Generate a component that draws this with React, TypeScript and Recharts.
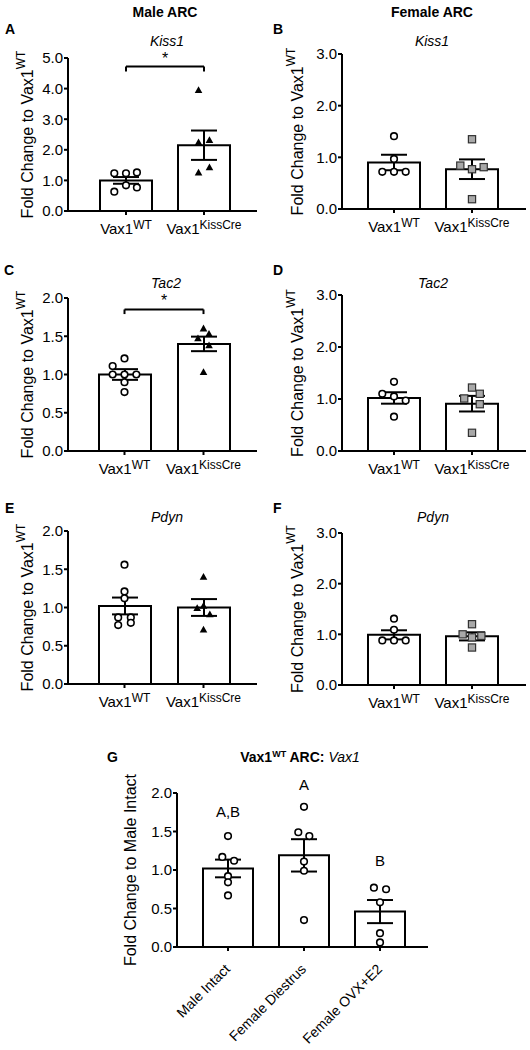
import React from 'react';
import {
  ComposedChart, Bar, ErrorBar, Scatter, XAxis, YAxis, ReferenceLine, ReferenceDot,
} from 'recharts';

const FONT = '"Liberation Sans", Arial, Helvetica, sans-serif';

// groups
const genotypes = ['WT', 'KissCre'];
const vaxGroups = ['Male Intact', 'Female Diestrus', 'Female OVX+E2'];

// y ticks
const ticks5 = [0, 1, 2, 3, 4, 5];
const ticks3 = [0, 1, 2, 3];
const ticks2 = [0, 0.5, 1, 1.5, 2];

// A - male Kiss1
const aMean = [1.0, 2.15];
const aSem = [0.11, 0.48];
const aWT = [1.23, 1.23, 1.26, 0.84, 0.77, 0.63];
const aWTx = [-0.15, 0, 0.14, 0, 0.14, -0.15];
const aKC = [3.95, 2.31, 2.24, 1.42, 1.25];
const aKCx = [-0.07, 0.07, -0.07, 0.07, -0.07];

// B - female Kiss1
const bMean = [0.9, 0.77];
const bSem = [0.15, 0.19];
const bWT = [1.41, 0.97, 0.72, 0.72, 0.72];
const bWTx = [0, 0, -0.15, 0, 0.15];
const bKC = [1.35, 0.84, 0.77, 0.81, 0.19];
const bKCx = [0, -0.15, 0, 0.15, 0];

// C - male Tac2
const cMean = [1.0, 1.4];
const cSem = [0.07, 0.095];
const cWT = [1.21, 1.11, 1.0, 1.0, 1.0, 0.9, 0.77];
const cWTx = [0, -0.15, -0.15, 0, 0.15, 0, 0];
const cKC = [1.6, 1.53, 1.47, 1.38, 1.03];
const cKCx = [0, 0.07, -0.07, 0.07, 0];

// D - female Tac2
const dMean = [1.02, 0.91];
const dSem = [0.11, 0.15];
const dWT = [1.33, 1.1, 1.05, 0.97, 0.66];
const dWTx = [0, -0.15, 0, 0.15, 0];
const dKC = [1.22, 1.1, 1.01, 0.9, 0.35];
const dKCx = [0, 0.1, -0.1, 0.1, 0];

// E - male Pdyn
const eMean = [1.02, 1.0];
const eSem = [0.11, 0.11];
const eWT = [1.56, 1.21, 1.12, 0.87, 0.77, 0.87, 0.8];
const eWTx = [0, 0, 0, -0.08, -0.08, 0.08, 0.08];
const eKC = [1.4, 1.02, 0.99, 0.91, 0.71];
const eKCx = [0, 0, -0.08, 0.08, 0];

// F - female Pdyn
const fMean = [0.99, 0.96];
const fSem = [0.09, 0.08];
const fWT = [1.31, 1.09, 0.88, 0.88, 0.88];
const fWTx = [0, 0, -0.15, 0, 0.15];
const fKC = [1.2, 1.0, 0.94, 0.97, 0.74];
const fKCx = [0, -0.12, 0, 0.12, 0];

// G - Vax1 in WT ARC
const gMean = [1.02, 1.19, 0.46];
const gSem = [0.115, 0.21, 0.15];
const gMale = [1.44, 1.17, 1.12, 0.92, 0.84, 0.67];
const gMalex = [0, -0.075, 0.08, 0, 0, 0];
const gDi = [1.82, 1.49, 1.44, 1.11, 0.99, 0.35];
const gDix = [0, -0.075, 0.07, 0, 0, 0];
const gOvx = [0.77, 0.75, 0.58, 0.18, 0.06];
const gOvxx = [-0.08, 0.08, 0, 0, 0];
const gLetters = ['A,B', 'A', 'B'];
const gLetterY = [1.76, 2.11, 1.12];

type Shape = 'circle' | 'tri' | 'square';
type Group = { idx: number; vals: number[]; jit: number[]; shape: Shape };

const CircleMark = (p: any) => (
  <circle cx={p.cx} cy={p.cy} r={3.3} fill="#fff" stroke="#000" strokeWidth={1.6} />
);
const TriMark = (p: any) => (
  <path d={`M${p.cx},${p.cy - 4}L${p.cx + 3.8},${p.cy + 2.8}L${p.cx - 3.8},${p.cy + 2.8}Z`} fill="#000" />
);
const SquareMark = (p: any) => (
  <rect x={p.cx - 3.6} y={p.cy - 3.6} width={7.2} height={7.2} fill="#a8a8a8" stroke="#333" strokeWidth={1.2} />
);
const marks = { circle: CircleMark, tri: TriMark, square: SquareMark };

const YLabel = ({ cx, cy, main, sup }: any) => (
  <text x={cx} y={cy} transform={`rotate(-90 ${cx} ${cy})`} textAnchor="middle" dominantBaseline="central"
    fontSize={16} fontFamily={FONT} fill="#000">
    {main}
    {sup && <tspan dy={-6} fontSize={12}>{sup}</tspan>}
  </text>
);

const GenoTick = (p: any) => (
  <text x={p.x} y={p.y + 17} textAnchor="middle" fontSize={15} fontFamily={FONT} fill="#000">
    Vax1<tspan dy={-5} fontSize={12}>{p.payload.value}</tspan>
  </text>
);

const GroupTick = (p: any) => {
  const x = p.x + 3;
  const y = p.y + 17;
  return (
    <text x={x} y={y} transform={`rotate(-45 ${x} ${y})`} textAnchor="end" fontSize={14} fontFamily={FONT} fill="#000">
      {p.payload.value}
    </text>
  );
};

type PanelProps = {
  box: [number, number, number, number]; // left, top, width, height
  plot: [number, number, number, number]; // left, top, right, bottom
  cats: string[];
  means: number[];
  sems: number[];
  groups: Group[];
  ymax: number;
  ticks: number[];
  pad: [number, number];
  barSize: number;
  labelOff: number;
  yMain: string;
  ySup?: string;
  rotated?: boolean;
  bracket?: { y: number; leg: number; star: number };
  letters?: { text: string[]; y: number[] };
};

const Panel = ({
  box, plot, cats, means, sems, groups, ymax, ticks, pad, barSize, labelOff,
  yMain, ySup, rotated, bracket, letters,
}: PanelProps) => {
  const [left, top, width, height] = box;
  const [pl, pt, pr, pb] = plot;
  const yw = pl - left;
  const xh = top + height - pb;
  const data = cats.map((c, i) => ({ name: c, mean: means[i], sem: sems[i] }));
  const axisStroke = { stroke: '#000', strokeWidth: 2 };
  return (
    <div style={{ position: 'absolute', left, top }}>
      <ComposedChart
        width={width}
        height={height}
        data={data}
        margin={{ top: pt - top, right: left + width - pr, bottom: 0, left: 0 }}
        style={{ fontFamily: FONT }}
      >
        <XAxis
          dataKey="name"
          height={xh}
          padding={{ left: pad[0], right: pad[1] }}
          axisLine={axisStroke}
          tickLine={axisStroke}
          tickSize={4}
          tickMargin={2}
          interval={0}
          tick={rotated ? <GroupTick /> : <GenoTick />}
        />
        <XAxis
          xAxisId="pts"
          dataKey="x"
          type="number"
          domain={[0, cats.length]}
          allowDataOverflow
          padding={{ left: pad[0], right: pad[1] }}
          hide
        />
        <YAxis
          width={yw}
          domain={[0, ymax]}
          ticks={ticks}
          interval={0}
          allowDataOverflow
          axisLine={axisStroke}
          tickLine={axisStroke}
          tickSize={4}
          tickMargin={1}
          tickFormatter={(v: number) => v.toFixed(1)}
          tick={{ fill: '#000', fontSize: 15, fontFamily: FONT }}
          label={<YLabel cx={yw - labelOff} cy={pt - top + (pb - pt) / 2} main={yMain} sup={ySup} />}
        />
        <Bar dataKey="mean" fill="#fff" stroke="#000" strokeWidth={2} barSize={barSize} isAnimationActive={false}>
          <ErrorBar dataKey="sem" width={13} stroke="#000" strokeWidth={2} direction="y" />
        </Bar>
        {groups.map((g, k) => (
          <Scatter
            key={k}
            xAxisId="pts"
            dataKey="y"
            data={g.vals.map((v, i) => ({ x: g.idx + 0.5 + g.jit[i], y: v }))}
            shape={marks[g.shape]}
            isAnimationActive={false}
          />
        ))}
        {bracket && (
          <ReferenceLine xAxisId="pts" stroke="#000" strokeWidth={2}
            segment={[{ x: 0.5, y: bracket.y }, { x: 1.5, y: bracket.y }]} />
        )}
        {bracket && (
          <ReferenceLine xAxisId="pts" stroke="#000" strokeWidth={2}
            segment={[{ x: 0.5, y: bracket.y }, { x: 0.5, y: bracket.leg }]} />
        )}
        {bracket && (
          <ReferenceLine xAxisId="pts" stroke="#000" strokeWidth={2}
            segment={[{ x: 1.5, y: bracket.y }, { x: 1.5, y: bracket.leg }]} />
        )}
        {bracket && (
          <ReferenceDot xAxisId="pts" x={1} y={bracket.star} r={0} fill="none" stroke="none" ifOverflow="visible"
            label={{ value: '*', position: 'center', fill: '#000', fontSize: 16, fontFamily: FONT }} />
        )}
        {letters && letters.text.map((t, i) => (
          <ReferenceDot key={t} xAxisId="pts" x={i + 0.5} y={letters.y[i]} r={0} fill="none" stroke="none"
            ifOverflow="visible"
            label={{ value: t, position: 'center', fill: '#000', fontSize: 15, fontFamily: FONT }} />
        ))}
      </ComposedChart>
    </div>
  );
};

const grp = (idx: number, vals: number[], jit: number[], shape: Shape): Group => ({ idx, vals, jit, shape });

const common = { cats: genotypes, barSize: 52, yMain: 'Fold Change to Vax1', ySup: 'WT' };

const App = () => (
  <div style={{ position: 'absolute', left: 0, top: 0, width: 530, height: 1050, background: '#fff', fontFamily: FONT }}>
    <Panel {...common} box={[0, 0, 265, 250]} plot={[68, 58, 257, 211]} means={aMean} sems={aSem}
      groups={[grp(0, aWT, aWTx, 'circle'), grp(1, aKC, aKCx, 'tri')]}
      ymax={5} ticks={ticks5} pad={[19, 14]} labelOff={41}
      bracket={{ y: 4.72, leg: 4.56, star: 5.0 }} />
    <Panel {...common} box={[265, 0, 265, 250]} plot={[342, 54, 526, 209]} means={bMean} sems={bSem}
      groups={[grp(0, bWT, bWTx, 'circle'), grp(1, bKC, bKCx, 'square')]}
      ymax={3} ticks={ticks3} pad={[13, 15]} labelOff={45} />
    <Panel {...common} box={[0, 250, 265, 250]} plot={[68, 298, 257, 451]} means={cMean} sems={cSem}
      groups={[grp(0, cWT, cWTx, 'circle'), grp(1, cKC, cKCx, 'tri')]}
      ymax={2} ticks={ticks2} pad={[17, 14]} labelOff={41}
      bracket={{ y: 1.85, leg: 1.79, star: 1.97 }} />
    <Panel {...common} box={[265, 250, 265, 250]} plot={[342, 295, 526, 451]} means={dMean} sems={dSem}
      groups={[grp(0, dWT, dWTx, 'circle'), grp(1, dKC, dKCx, 'square')]}
      ymax={3} ticks={ticks3} pad={[13, 15]} labelOff={45} />
    <Panel {...common} box={[0, 500, 265, 250]} plot={[68, 531, 257, 684]} means={eMean} sems={eSem}
      groups={[grp(0, eWT, eWTx, 'circle'), grp(1, eKC, eKCx, 'tri')]}
      ymax={2} ticks={ticks2} pad={[17, 14]} labelOff={41} />
    <Panel {...common} box={[265, 500, 265, 250]} plot={[342, 533, 526, 685]} means={fMean} sems={fSem}
      groups={[grp(0, fWT, fWTx, 'circle'), grp(1, fKC, fKCx, 'square')]}
      ymax={3} ticks={ticks3} pad={[13, 15]} labelOff={45} />
    <Panel box={[60, 760, 470, 290]} plot={[177, 793, 428, 947]} cats={vaxGroups} means={gMean} sems={gSem}
      groups={[grp(0, gMale, gMalex, 'circle'), grp(1, gDi, gDix, 'circle'), grp(2, gOvx, gOvxx, 'circle')]}
      ymax={2} ticks={ticks2} pad={[13, 10]} barSize={50} labelOff={47}
      yMain="Fold Change to Male Intact" rotated
      letters={{ text: gLetters, y: gLetterY }} />

    <svg width={530} height={1050} style={{ position: 'absolute', left: 0, top: 0, pointerEvents: 'none' }}
      fontFamily={FONT} fontSize={14} fill="#000">
      <text x={165} y={17} textAnchor="middle" fontWeight="bold">Male ARC</text>
      <text x={432} y={17} textAnchor="middle" fontWeight="bold">Female ARC</text>
      <text x={5} y={34} fontWeight="bold">A</text>
      <text x={273} y={34} fontWeight="bold">B</text>
      <text x={4} y={275} fontWeight="bold">C</text>
      <text x={273} y={275} fontWeight="bold">D</text>
      <text x={5} y={513} fontWeight="bold">E</text>
      <text x={273} y={513} fontWeight="bold">F</text>
      <text x={107} y={762} fontWeight="bold">G</text>
      <text x={167} y={46} textAnchor="middle" fontStyle="italic">Kiss1</text>
      <text x={432} y={46} textAnchor="middle" fontStyle="italic">Kiss1</text>
      <text x={166} y={288} textAnchor="middle" fontStyle="italic">Tac2</text>
      <text x={433} y={288} textAnchor="middle" fontStyle="italic">Tac2</text>
      <text x={167} y={522} textAnchor="middle" fontStyle="italic">Pdyn</text>
      <text x={433} y={522} textAnchor="middle" fontStyle="italic">Pdyn</text>
      <text x={300} y={762} textAnchor="middle" fontWeight="bold">
        Vax1<tspan dy={-5} fontSize={9}>WT</tspan>
        <tspan dy={5}> ARC: </tspan>
        <tspan fontStyle="italic" fontWeight="normal">Vax1</tspan>
      </text>
    </svg>
  </div>
);

export default App;
